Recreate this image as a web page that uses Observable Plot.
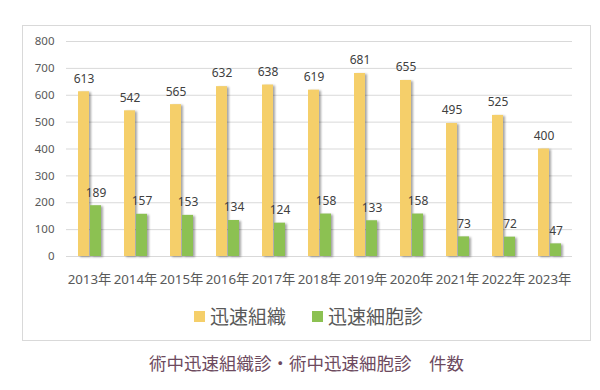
<!DOCTYPE html>
<html>
<head>
<meta charset="utf-8">
<script src="https://cdn.jsdelivr.net/npm/d3@7"></script>
<script src="https://cdn.jsdelivr.net/npm/@observablehq/plot@0.6"></script>
<style>
  body { margin: 0; background: #fff; font-family: "Noto Sans CJK JP", "Noto Sans", sans-serif; }
  #wrap { position: relative; width: 600px; height: 390px; }
  #box { position: absolute; left: 22px; top: 25px; width: 569px; height: 316px; border: 1px solid #d9d9d9; box-sizing: border-box; }
  #chart { position: absolute; left: 0; top: 0; }
  #chart g[aria-label="bar"] { filter: drop-shadow(2px 1px 1.2px rgba(0,0,0,0.35)); }
  #legend { position: absolute; top: 303px; left: 24px; width: 569px; display: flex; justify-content: center; gap: 26px; font-size: 19px; color: #595959; line-height: 26px; }
  #legend span.item { display: flex; align-items: center; }
  #legend span.sw { display: inline-block; width: 11px; height: 11px; margin-right: 5px; }
  #title { position: absolute; top: 350px; left: 22px; width: 569px; text-align: center; font-size: 17.5px; color: #6d4a5e; line-height: 26px; }
</style>
</head>
<body>
<div id="wrap">
  <div id="box"></div>
  <div id="chart"></div>
  <div id="legend"></div>
  <div id="title">術中迅速組織診・術中迅速細胞診　件数</div>
</div>
<script>
const years = ["2013年","2014年","2015年","2016年","2017年","2018年","2019年","2020年","2021年","2022年","2023年"];
const seriesNames = ["迅速組織","迅速細胞診"];
const tissue = [613, 542, 565, 632, 638, 619, 681, 655, 495, 525, 400];
const cytology = [189, 157, 153, 134, 124, 158, 133, 158, 73, 72, 47];
const colors = ["#F5CF6A", "#8CC152"];
const yTicks = [0, 100, 200, 300, 400, 500, 600, 700, 800];

const data = [];
years.forEach((y, i) => {
  data.push({year: y, series: seriesNames[0], value: tissue[i]});
  data.push({year: y, series: seriesNames[1], value: cytology[i]});
});

const chart = Plot.plot({
  width: 600,
  height: 300,
  marginTop: 41,
  marginBottom: 44,
  marginLeft: 62,
  marginRight: 25,
  style: {fontFamily: "'Noto Sans', 'Noto Sans CJK JP', sans-serif", background: "transparent"},
  fx: {domain: years, paddingInner: 0, paddingOuter: 0, label: null, axis: null},
  x: {domain: seriesNames, paddingInner: 0.12, paddingOuter: 0.85, axis: null},
  y: {domain: [0, 800], ticks: yTicks, label: null, axis: null},
  color: {domain: seriesNames, range: colors},
  marks: [
    Plot.gridY(yTicks, {stroke: "#d9d9d9", strokeOpacity: 1, strokeWidth: 1}),
    Plot.axisY(yTicks, {tickSize: 0, tickPadding: 12, fontSize: 11.5, fill: "#595959", label: null}),
    Plot.axisFx({anchor: "bottom", tickSize: 0, tickPadding: 18, fontSize: 13.3, fill: "#595959", label: null}),
    Plot.barY(data, {fx: "year", x: "series", y: "value", fill: "series"}),
    Plot.text(data, {fx: "year", x: "series", y: "value", text: d => String(d.value), dy: -13, fontSize: 12, fill: "#404040"})
  ]
});
document.getElementById("chart").appendChild(chart);

const legend = document.getElementById("legend");
seriesNames.forEach((s, i) => {
  const item = document.createElement("span");
  item.className = "item";
  const sw = document.createElement("span");
  sw.className = "sw";
  sw.style.background = colors[i];
  item.appendChild(sw);
  item.appendChild(document.createTextNode(s));
  legend.appendChild(item);
});
</script>
</body>
</html>
